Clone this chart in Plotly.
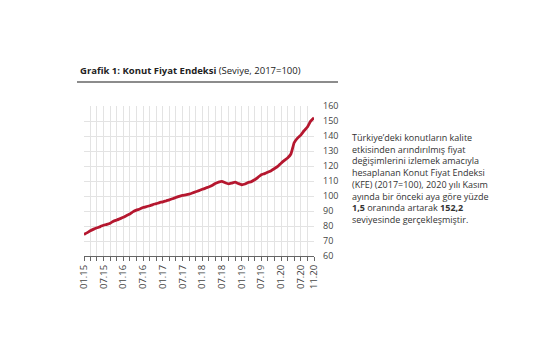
import plotly.graph_objects as go
import pandas as pd

# ---- data (Konut Fiyat Endeksi, 2017=100), monthly Jan 2015 - Nov 2020 ----
start_month = "2015-01-01"
kfe_values = [
    74.4, 75.6, 76.8, 77.9, 78.8, 79.6, 80.5, 81.1, 81.9, 83.2, 84.0, 84.9,   # 2015
    85.8, 87.0, 88.0, 89.6, 90.6, 91.3, 92.3, 92.9, 93.5, 94.3, 94.9, 95.6,   # 2016
    96.1, 96.8, 97.4, 98.2, 99.0, 99.8, 100.4, 100.8, 101.3, 102.0, 102.8, 103.6,  # 2017
    104.5, 105.3, 106.0, 107.0, 108.3, 109.3, 109.8, 108.8, 108.1, 108.6, 109.2, 108.3,  # 2018
    107.5, 108.0, 109.0, 109.6, 110.8, 112.4, 114.2, 114.9, 115.9, 116.9, 118.3, 119.7,  # 2019
    121.9, 123.8, 125.4, 128.0, 135.5, 138.6, 140.6, 143.5, 146.0, 149.9, 152.2,   # 2020
]
tick_labels = ["01.15", "07.15", "01.16", "07.16", "01.17", "07.17", "01.18",
               "07.18", "01.19", "07.19", "01.20", "07.20", "11.20"]
y_ticks = [60, 70, 80, 90, 100, 110, 120, 130, 140, 150, 160]

title_bold = "Grafik 1: Konut Fiyat Endeksi"
title_rest = "(Seviye, 2017=100)"
note_lines = [
    "Türkiye’deki konutların kalite",
    "etkisinden arındırılmış fiyat",
    "değişimlerini izlemek amacıyla",
    "hesaplanan Konut Fiyat Endeksi",
    "(KFE) (2017=100), 2020 yılı Kasım",
    "ayında bir önceki aya göre yüzde",
    "<b>1,5</b> oranında artarak <b>152,2</b>",
    "seviyesinde gerçekleşmiştir.",
]

dates = pd.date_range(start_month, periods=len(kfe_values), freq="MS")
tick_dates = dates[::2]
label_map = {pd.Timestamp(f"20{l[3:]}-{l[:2]}-01"): l for l in tick_labels}
tick_text = [label_map.get(d, "") for d in tick_dates]

# ---- layout geometry ----
W, H = 555, 355
L, R, T, B = 84, 241, 106, 99
pw, ph = W - L - R, H - T - B


def px_x(px):
    return (px - L) / pw


def px_y(py):
    return (H - B - py) / ph


font = "Open Sans, Noto Sans, sans-serif"

fig = go.Figure()
fig.add_trace(go.Scatter(
    x=dates, y=kfe_values, mode="lines",
    line=dict(color="#b5172f", width=2.8, shape="spline", smoothing=0.4),
    hoverinfo="x+y", showlegend=False,
))

fig.update_layout(
    width=W, height=H,
    margin=dict(l=L, r=R, t=T, b=B, pad=0),
    paper_bgcolor="white", plot_bgcolor="white",
    font=dict(family=font, color="#333333"),
    xaxis=dict(
        range=[dates[0], dates[-1]],
        tickmode="array", tickvals=tick_dates, ticktext=tick_text,
        tickangle=-90, tickfont=dict(size=9.5, color="#444444"),
        showgrid=True, gridcolor="#e3e3e3", gridwidth=1,
        showline=True, linecolor="#666666", linewidth=1,
        ticks="outside", ticklen=4, tickcolor="#666666", tickwidth=1,
        zeroline=False, fixedrange=True,
    ),
    yaxis=dict(
        range=[60, 160], side="right",
        tickmode="array", tickvals=y_ticks,
        tickfont=dict(size=9, color="#444444"),
        showgrid=True, gridcolor="#e3e3e3", gridwidth=1,
        showline=False, ticks="", ticklabelstandoff=8,
        zeroline=False, fixedrange=True,
    ),
)

# Title
fig.add_annotation(
    xref="paper", yref="paper", x=px_x(78), y=px_y(70),
    xanchor="left", yanchor="middle", showarrow=False,
    text=f"<b>{title_bold}</b> {title_rest}",
    font=dict(family=font, size=9.5, color="#222222"),
)
# Rule under title
fig.add_shape(
    type="line", xref="paper", yref="paper",
    x0=px_x(77), x1=px_x(338), y0=px_y(82), y1=px_y(82),
    line=dict(color="#8c8c8c", width=2),
)
# Side note
fig.add_annotation(
    xref="paper", yref="paper", x=px_x(350), y=px_y(129),
    xanchor="left", yanchor="top", showarrow=False, align="left",
    text="<br>".join(note_lines),
    font=dict(family=font, size=9, color="#333333"),
)

fig.write_html(
    "out.html",
    config={"displayModeBar": False},
    post_script="document.body.style.margin='0px';document.body.style.overflow='hidden';",
)
